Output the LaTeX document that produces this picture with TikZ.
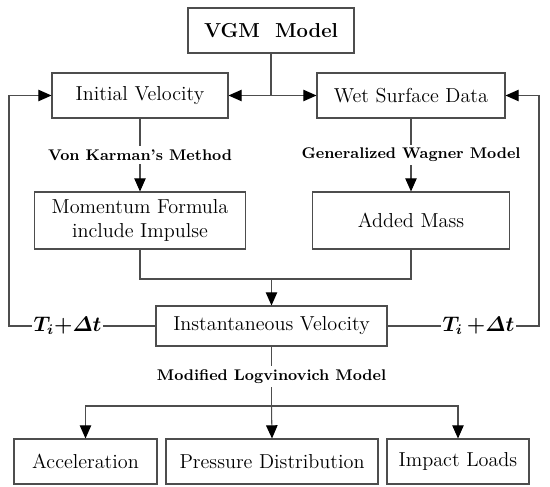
\documentclass[tikz,border=0pt]{standalone}
\usepackage{amsmath}
\usetikzlibrary{arrows.meta, positioning, calc}
\definecolor{linea}{HTML}{4D4D4D}
\tikzset{
  caja/.style={rectangle, draw=linea, line width=0.6pt, fill=white, text centered, align=center,
               font=\fontsize{11.5}{13.5}\selectfont, inner sep=2pt},
  metodo/.style={fill=white, font=\fontsize{8.8}{10}\selectfont\bfseries, inner sep=2pt},
  paso/.style={fill=white, font=\fontsize{11.5}{13}\selectfont\boldmath, inner sep=1pt},
  linea/.style={draw=linea, line width=0.6pt},
  arrow/.style={linea, -{Triangle[length=7.5pt,width=6.5pt,color=black]}}
}
\begin{document}
\begin{tikzpicture}[x=0.02cm, y=-0.02cm]
  \useasboundingbox (0,0) rectangle (550,486);
  % Fila superior
  \node (vgm) [caja, font=\fontsize{11.5}{13}\selectfont\bfseries,
               minimum width=3.32cm, minimum height=0.9cm] at (271,30.5) {VGM\ \ Model};
  \node (init) [caja, minimum width=3.52cm, minimum height=0.9cm] at (140,95.5) {Initial Velocity};
  \node (wet) [caja, minimum width=3.76cm, minimum height=0.9cm] at (411,95.5) {Wet Surface Data};
  \coordinate (split) at (271,95.5);
  \draw [linea] (vgm.south) -- (split);
  \draw [arrow] (split) -- (init.east); \draw [arrow] (split) -- (wet.west);
  % Fila media
  \node (mom) [caja, minimum width=4.22cm, minimum height=1.14cm] at (140,220.5) {Momentum Formula\\ include Impulse};
  \node (mass) [caja, minimum width=3.94cm, minimum height=1.14cm] at (411,220.5) {Added Mass};
  \draw [arrow] (init.south) -- node [metodo] {Von Karman's Method} (mom.north);
  \draw [arrow] (wet.south) -- node [metodo] {Generalized Wagner Model} (mass.north);
  \node (inst) [caja, minimum width=4.62cm, minimum height=0.8cm] at (271.5,326) {Instantaneous Velocity};
  \coordinate (join) at (271.5,279);
  \draw [linea] (mom.south) |- (join) -| (mass.south);
  \draw [arrow] (join) -- (inst.north);
  % Lazos de realimentacion
  \coordinate (fbL) at (9,326);
  \coordinate (fbR) at (539,326);
  \draw [arrow] (inst.west) -- node [paso, pos=0.6] {$T_{i}{+}\varDelta t$} (fbL) |- (init.west);
  \draw [arrow] (inst.east) -- node [paso, pos=0.6] {$T_{i}\,{+}\varDelta t$} (fbR) |- (wet.east);
  % Fila inferior
  \node (acc) [caja, minimum width=2.86cm, minimum height=0.9cm] at (85.5,461.5) {Acceleration};
  \node (pres) [caja, minimum width=4.24cm, minimum height=0.9cm] at (272,461.5) {Pressure Distribution};
  \node (imp) [caja, minimum width=2.84cm, minimum height=0.9cm] at (458,461.5) {Impact Loads};
  \coordinate (fork) at (271.5,406);
  \draw [linea] (inst.south) -- node [metodo] {Modified Logvinovich Model} (fork);
  \draw [arrow] (fork) -| (acc.north);
  \draw [arrow] (fork) -- (pres.north);
  \draw [arrow] (fork) -| (imp.north);
\end{tikzpicture}
\end{document}
